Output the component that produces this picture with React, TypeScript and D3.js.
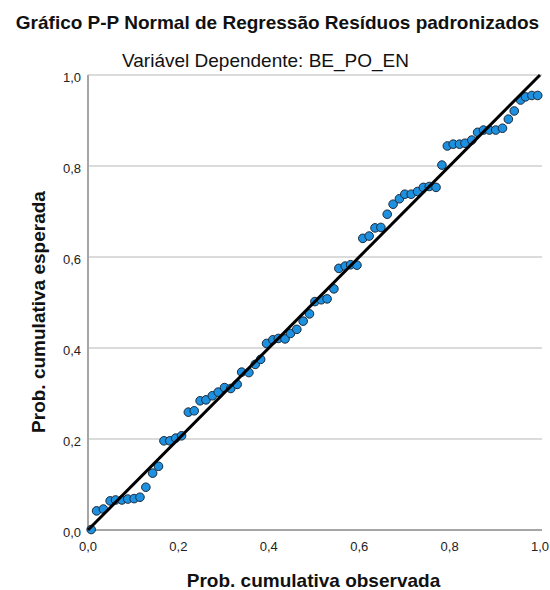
import React, { useRef, useEffect } from 'react';
import * as d3 from "d3";

const width = 550;
const height = 590;
const margin = ({top: 75, right: 10, bottom: 60, left: 88});

// observed cumulative probability (x) and expected cumulative probability (y)
const observed = [
    0.007, 0.019, 0.034, 0.049, 0.061, 0.075, 0.088, 0.102, 0.115, 0.128,
    0.143, 0.156, 0.168, 0.181, 0.194, 0.207, 0.222, 0.235, 0.248, 0.261,
    0.275, 0.288, 0.302, 0.316, 0.330, 0.340, 0.356, 0.370, 0.382, 0.395,
    0.409, 0.421, 0.436, 0.448, 0.462, 0.476, 0.490, 0.502, 0.516, 0.529,
    0.544, 0.555, 0.569, 0.581, 0.595, 0.608, 0.622, 0.635, 0.648, 0.662,
    0.675, 0.689, 0.701, 0.715, 0.729, 0.742, 0.755, 0.770, 0.783, 0.795,
    0.808, 0.822, 0.834, 0.849, 0.862, 0.875, 0.888, 0.902, 0.917, 0.930,
    0.943, 0.957, 0.968, 0.982, 0.995
];
const expected = [
    0.001, 0.042, 0.046, 0.064, 0.066, 0.066, 0.068, 0.069, 0.072, 0.094,
    0.125, 0.140, 0.196, 0.196, 0.202, 0.207, 0.259, 0.262, 0.284, 0.286,
    0.295, 0.303, 0.313, 0.311, 0.320, 0.347, 0.346, 0.364, 0.375, 0.410,
    0.418, 0.421, 0.420, 0.432, 0.441, 0.459, 0.475, 0.502, 0.506, 0.508,
    0.530, 0.575, 0.580, 0.583, 0.582, 0.641, 0.646, 0.664, 0.665, 0.694,
    0.716, 0.728, 0.738, 0.738, 0.744, 0.753, 0.755, 0.753, 0.802, 0.844,
    0.848, 0.848, 0.850, 0.857, 0.874, 0.879, 0.879, 0.879, 0.883, 0.903,
    0.921, 0.945, 0.952, 0.955, 0.955
];
const ticks = [0, 0.2, 0.4, 0.6, 0.8, 1.0];
const tickLabels = ["0,0", "0,2", "0,4", "0,6", "0,8", "1,0"];

const title = "Gráfico P-P Normal de Regressão Resíduos padronizados";
const subtitle = "Variável Dependente: BE_PO_EN";
const xTitle = "Prob. cumulativa observada";
const yTitle = "Prob. cumulativa esperada";

export default function App() {
    const ref = useRef(null);

    useEffect(() => {
        const svg = d3.select(ref.current);
        svg.selectAll("*").remove();

        const x = d3.scaleLinear()
            .domain([0, 1])
            .range([margin.left, width - margin.right]);
        const y = d3.scaleLinear()
            .domain([0, 1])
            .range([530, margin.top]);

        const font = "'Liberation Sans', Arial, sans-serif";
        const data = observed.map((o, i) => ({o, e: expected[i]}));

        svg.append("rect")
            .attr("width", width)
            .attr("height", height)
            .attr("fill", "white");

        // grid
        svg.append("g")
            .selectAll("line")
            .data(ticks.slice(1))
            .join("line")
            .attr("x1", x(0))
            .attr("x2", 542)
            .attr("y1", d => y(d))
            .attr("y2", d => y(d))
            .attr("stroke", "#cfcfcf")
            .attr("stroke-width", 1.5);

        // axes
        svg.append("line")
            .attr("x1", x(0)).attr("x2", x(0))
            .attr("y1", y(1)).attr("y2", y(0))
            .attr("stroke", "#a6a6a6")
            .attr("stroke-width", 2);
        svg.append("line")
            .attr("x1", x(0)).attr("x2", 542)
            .attr("y1", y(0)).attr("y2", y(0))
            .attr("stroke", "#a6a6a6")
            .attr("stroke-width", 2);

        svg.append("g")
            .selectAll("text")
            .data(ticks)
            .join("text")
            .attr("x", 81)
            .attr("y", d => y(d) + 7)
            .attr("text-anchor", "end")
            .attr("font-family", font)
            .attr("font-size", 13)
            .attr("fill", "#222")
            .text((d, i) => tickLabels[i]);

        svg.append("g")
            .selectAll("text")
            .data(ticks)
            .join("text")
            .attr("x", d => x(d))
            .attr("y", 551)
            .attr("text-anchor", "middle")
            .attr("font-family", font)
            .attr("font-size", 13)
            .attr("fill", "#222")
            .text((d, i) => tickLabels[i]);

        // points
        svg.append("g")
            .selectAll("circle")
            .data(data)
            .join("circle")
            .attr("cx", d => x(d.o))
            .attr("cy", d => y(d.e))
            .attr("r", 4.3)
            .attr("fill", "#1e90e0")
            .attr("stroke", "#1a2a3a")
            .attr("stroke-width", 1);

        // reference line
        svg.append("line")
            .attr("x1", x(0)).attr("y1", y(0))
            .attr("x2", x(1)).attr("y2", y(1))
            .attr("stroke", "black")
            .attr("stroke-width", 3);

        svg.append("text")
            .attr("x", 277.5)
            .attr("y", 29)
            .attr("text-anchor", "middle")
            .attr("font-family", font)
            .attr("font-weight", "bold")
            .attr("font-size", 19)
            .attr("fill", "#111")
            .text(title);

        svg.append("text")
            .attr("x", 265.5)
            .attr("y", 67)
            .attr("text-anchor", "middle")
            .attr("font-family", font)
            .attr("font-size", 19)
            .attr("fill", "#111")
            .text(subtitle);

        svg.append("text")
            .attr("x", 313.5)
            .attr("y", 587)
            .attr("text-anchor", "middle")
            .attr("font-family", font)
            .attr("font-weight", "bold")
            .attr("font-size", 19)
            .attr("fill", "#111")
            .text(xTitle);

        svg.append("text")
            .attr("transform", `translate(45,312) rotate(-90)`)
            .attr("text-anchor", "middle")
            .attr("font-family", font)
            .attr("font-weight", "bold")
            .attr("font-size", 19)
            .attr("fill", "#111")
            .text(yTitle);
    }, []);

    return (
        <svg ref={ref} width={width} height={height}
            style={{position: "absolute", left: 0, top: 0, display: "block"}} />
    );
}
